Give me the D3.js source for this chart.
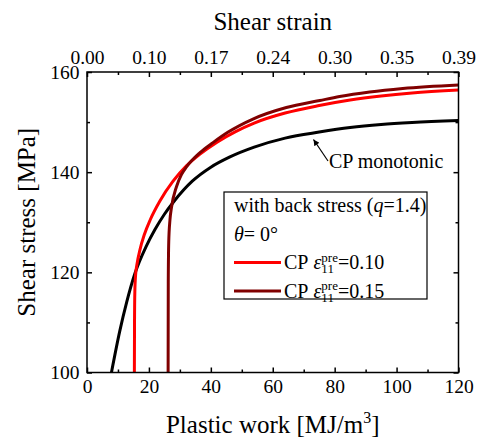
<!DOCTYPE html>
<html>
<head>
<meta charset="utf-8">
<script src="https://cdn.jsdelivr.net/npm/d3@7"></script>
<style>
body {margin:0; background:#fff;}
svg {display:block;}
</style>
</head>
<body>
<div id="chart"></div>
<script>
var FONT = "'Liberation Serif', 'Times New Roman', 'DejaVu Serif', serif";

// monotonic loading (black)
var monoWork   = [7.9, 10.6, 12.8, 15.5, 19.2, 22, 25, 28, 34, 40, 46, 54, 64, 75, 85, 95, 105, 120];
var monoStress = [100, 108.3, 114.0, 119.8, 125.3, 128.6, 131.6, 134.1, 138.2, 141.0, 143.0, 145.0, 146.8, 148.0, 148.9, 149.5, 149.9, 150.3];

// pre-strain 0.10 (red)
var pre10Work   = [15.3, 15.35, 15.45, 15.7, 16.2, 17.1, 18.5, 20.5, 23.5, 27.8, 32.2, 36.5, 42, 48, 54, 64, 75, 85, 95, 105, 120];
var pre10Stress = [100, 110, 116, 119.5, 121.8, 124.5, 127.5, 130.6, 134.2, 138.2, 141.3, 143.6, 146.0, 148.1, 149.8, 151.8, 153.3, 154.4, 155.2, 155.8, 156.4];

// pre-strain 0.15 (dark red)
var pre15Work   = [26.2, 26.25, 26.4, 26.8, 27.3, 28.9, 30.5, 32.2, 36.5, 40.7, 45.6, 53.6, 64.4, 75.2, 81.6, 91.3, 102, 120];
var pre15Stress = [100, 118, 126, 130.5, 133, 137.1, 139.5, 141.1, 143.9, 145.9, 148.0, 150.6, 152.9, 154.3, 155.1, 156.0, 156.7, 157.4];

var xTicks = [0, 20, 40, 60, 80, 100, 120];
var xMinor = [10, 30, 50, 70, 90, 110];
var strainLabels = ["0.00", "0.10", "0.17", "0.24", "0.30", "0.35", "0.39"];
var yTicks = [100, 120, 140, 160];
var yMinor = [110, 130, 150];

var seriesNames = ["0.10", "0.15"];
var seriesColors = ["#ff0000", "#800000"];

var width = 479;
var height = 439;
var margin_left = 87;
var margin_right = 20.5;
var margin_top = 72;
var margin_bottom = 66.5;
var w2 = width - margin_left - margin_right;
var h2 = height - margin_top - margin_bottom;

var svg = d3.select("#chart").append("svg")
	.attr("width", width)
	.attr("height", height)
	.style("font-family", FONT);

var x = d3.scaleLinear().domain([0, 120]).range([0, w2]);
var y = d3.scaleLinear().domain([100, 160]).range([h2, 0]);

var g = svg.append("g").attr("transform", "translate(" + margin_left + "," + margin_top + ")");

g.append("clipPath").attr("id", "clip")
	.append("rect").attr("width", w2).attr("height", h2);

//curves
var line = d3.line()
	.x(function(d){return x(d[0]);})
	.y(function(d){return y(d[1]);})
	.curve(d3.curveMonotoneX);

function pairs(a, b){
	return a.map(function(v, i){return [v, b[i]];});
}

var curves = [
	[pairs(monoWork, monoStress), "#000"],
	[pairs(pre10Work, pre10Stress), seriesColors[0]],
	[pairs(pre15Work, pre15Stress), seriesColors[1]]
];
curves.forEach(function(c){
	g.append("path")
		.attr("clip-path", "url(#clip)")
		.attr("d", line(c[0]))
		.style("fill", "none")
		.style("stroke", c[1])
		.style("stroke-width", 3);
});

//axes, ticks inward
function styleAxis(sel){
	sel.attr("font-family", null).attr("font-size", null);
	sel.select(".domain").remove();
	sel.selectAll("line").style("stroke", "#000").style("stroke-width", 1.5);
	sel.selectAll("text").style("font-size", "19.5px").style("font-family", FONT).style("fill", "#000");
}

g.append("g").attr("transform", "translate(0," + h2 + ")")
	.call(d3.axisBottom(x).tickValues(xTicks).tickSize(-5).tickPadding(6.5))
	.call(styleAxis);
g.append("g").attr("transform", "translate(0," + h2 + ")")
	.call(d3.axisBottom(x).tickValues(xMinor).tickSize(-3).tickFormat(""))
	.call(styleAxis);

g.append("g")
	.call(d3.axisTop(x).tickValues(xTicks).tickSize(-5).tickPadding(8.5)
		.tickFormat(function(d, i){return strainLabels[i];}))
	.call(styleAxis);
g.append("g")
	.call(d3.axisTop(x).tickValues(xMinor).tickSize(-3).tickFormat(""))
	.call(styleAxis);

g.append("g")
	.call(d3.axisLeft(y).tickValues(yTicks).tickSize(-5).tickPadding(7.5))
	.call(styleAxis);
g.append("g")
	.call(d3.axisLeft(y).tickValues(yMinor).tickSize(-3).tickFormat(""))
	.call(styleAxis);

g.append("g").attr("transform", "translate(" + w2 + ",0)")
	.call(d3.axisRight(y).tickValues(yTicks).tickSize(-5).tickFormat(""))
	.call(styleAxis);
g.append("g").attr("transform", "translate(" + w2 + ",0)")
	.call(d3.axisRight(y).tickValues(yMinor).tickSize(-3).tickFormat(""))
	.call(styleAxis);

g.append("rect")
	.attr("width", w2)
	.attr("height", h2)
	.style("fill", "none")
	.style("stroke", "#000")
	.style("stroke-width", 1.5);

//titles
function txt(parent, size){
	return parent.append("text").style("font-family", FONT).style("font-size", size + "px").style("fill", "#000");
}

txt(svg, 25)
	.attr("x", margin_left + w2/2)
	.attr("y", 29.5)
	.style("text-anchor", "middle")
	.text("Shear strain");

var xt = txt(svg, 25)
	.attr("x", margin_left + w2/2)
	.attr("y", 433)
	.style("text-anchor", "middle");
xt.append("tspan").text("Plastic work [MJ/m");
xt.append("tspan").attr("dy", -10).style("font-size", "16px").text("3");
xt.append("tspan").attr("dy", 10).text("]");

txt(svg, 25)
	.attr("transform", "translate(35," + (margin_top + h2/2) + ") rotate(-90)")
	.style("text-anchor", "middle")
	.text("Shear stress [MPa]");

//annotation
svg.append("defs").append("marker")
	.attr("id", "arrow")
	.attr("viewBox", "0 0 10 10")
	.attr("refX", 10).attr("refY", 5)
	.attr("markerWidth", 9).attr("markerHeight", 6)
	.attr("markerUnits", "userSpaceOnUse")
	.attr("orient", "auto")
	.append("path").attr("d", "M0,0L10,5L0,10z").style("fill", "#000");

svg.append("line")
	.attr("x1", 328).attr("y1", 161)
	.attr("x2", 313.5).attr("y2", 139.5)
	.style("stroke", "#000")
	.style("stroke-width", 1.2)
	.attr("marker-end", "url(#arrow)");

txt(svg, 20)
	.attr("x", 329)
	.attr("y", 167.5)
	.text("CP monotonic");

//legend
var lg = svg.append("g");
lg.append("rect")
	.attr("x", 224).attr("y", 192)
	.attr("width", 203).attr("height", 107)
	.style("fill", "#fff")
	.style("stroke", "#000")
	.style("stroke-width", 1.2);

var t1 = txt(lg, 20).attr("x", 234).attr("y", 212);
t1.append("tspan").text("with back stress (");
t1.append("tspan").style("font-style", "italic").text("q");
t1.append("tspan").text("=1.4)");

var t2 = txt(lg, 20).attr("x", 234).attr("y", 241);
t2.append("tspan").style("font-style", "italic").text("\u03b8");
t2.append("tspan").text("= 0\u00b0");

seriesNames.forEach(function(name, i){
	var ly = 262.5 + i*28.5;
	var by = ly + 6.5;
	lg.append("line")
		.attr("x1", 234).attr("x2", 281)
		.attr("y1", ly).attr("y2", ly)
		.style("stroke", seriesColors[i])
		.style("stroke-width", 3);
	// one text: CP eps, stacked pre / 11, then =value
	var t = txt(lg, 20).attr("x", 284).attr("y", by);
	t.append("tspan").text("CP\u00a0");
	t.append("tspan").style("font-style", "italic").text("\u03b5");
	var sup = t.append("tspan").attr("dy", -7.5).style("font-size", "13px").text("pre");
	var wsup = sup.node().getComputedTextLength();
	var sub = t.append("tspan").attr("dx", -wsup).attr("dy", 11.5).style("font-size", "13px").text("11");
	var wsub = sub.node().getComputedTextLength();
	t.append("tspan").attr("dx", Math.max(0, wsup - wsub)).attr("dy", -4).text("=" + name);
});
</script>
</body>
</html>
